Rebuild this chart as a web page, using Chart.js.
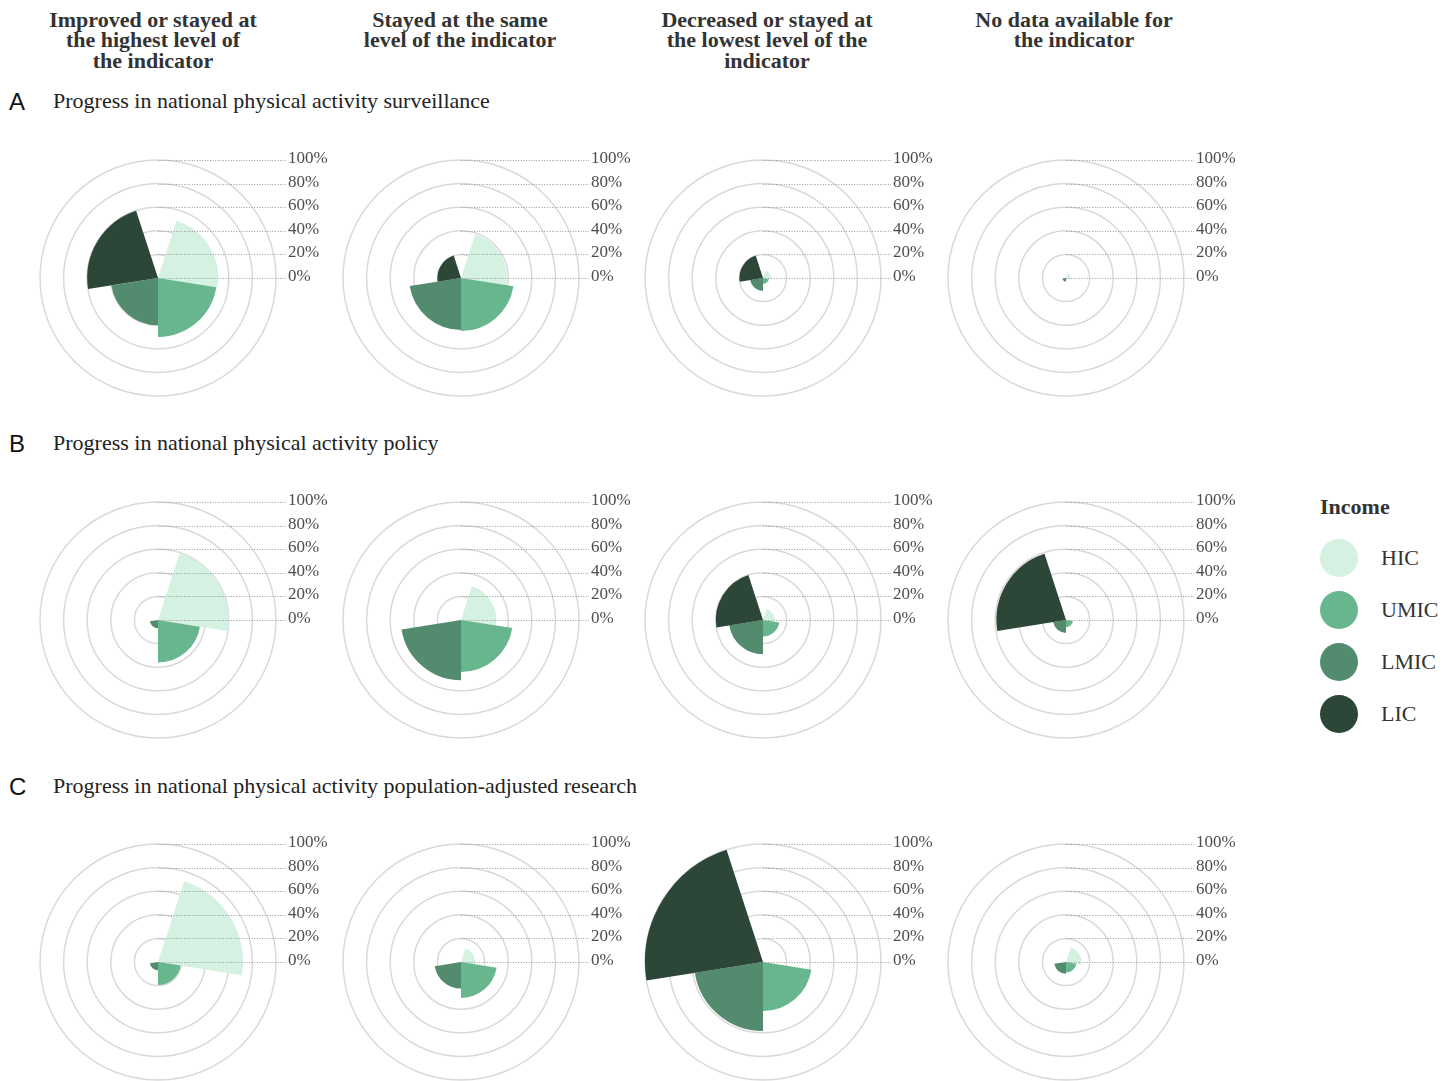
<!DOCTYPE html>
<html>
<head>
<meta charset="utf-8">
<script src="https://cdn.jsdelivr.net/npm/chart.js@4.4.0/dist/chart.umd.min.js"></script>
<style>
html,body{margin:0;padding:0;background:#ffffff;}
body{width:1452px;height:1081px;position:relative;overflow:hidden;font-family:"Liberation Serif","Times New Roman",serif;}
.hdr{position:absolute;width:320px;text-align:center;font-weight:bold;font-size:22px;line-height:20.5px;color:#333333;}
.rowlab{position:absolute;font-family:"Liberation Sans",Arial,sans-serif;font-size:24px;line-height:24px;color:#111111;}
.rowtitle{position:absolute;font-size:22px;line-height:24px;color:#222222;white-space:nowrap;}
.legtitle{position:absolute;font-weight:bold;font-size:22px;line-height:24px;color:#333333;}
.legdot{position:absolute;width:38px;height:38px;border-radius:50%;}
.leglab{position:absolute;font-size:22px;line-height:24px;color:#333333;}
canvas{position:absolute;}
</style>
</head>
<body>
<div id="root"></div>
<script>
// ---------- data ----------
const incomeGroups = ['HIC', 'UMIC', 'LMIC', 'LIC'];
const incomeColors = ['#d4f1e2', '#67b68e', '#538b6e', '#2c4638'];
const columnTitles = [
  ['Improved or stayed at', 'the highest level of', 'the indicator'],
  ['Stayed at the same', 'level of the indicator'],
  ['Decreased or stayed at', 'the lowest level of the', 'indicator'],
  ['No data available for', 'the indicator']
];
const rowLetters = ['A', 'B', 'C'];
const rowTitles = [
  'Progress in national physical activity surveillance',
  'Progress in national physical activity policy',
  'Progress in national physical activity population-adjusted research'
];
const legendTitle = 'Income';
const tickValues = [0, 20, 40, 60, 80, 100];
const tickLabels = ['0%', '20%', '40%', '60%', '80%', '100%'];

// values: percent of countries in each income group (HIC, UMIC, LMIC, LIC)
const surveillanceImproved = [51, 50, 40, 60];
const surveillanceSame     = [39, 45, 44, 20];
const surveillanceDecreased= [7, 5, 11, 20];
const surveillanceNoData   = [4, 1, 3, 0];

const policyImproved  = [60, 36, 7, 0];
const policySame      = [30, 44, 51, 0];
const policyDecreased = [10, 14, 29, 40];
const policyNoData    = [0, 6, 11, 59];

const researchImproved  = [72, 19.5, 7, 0];
const researchSame      = [12, 30.5, 22.5, 0];
const researchDecreased = [0, 41.5, 58.5, 100];
const researchNoData    = [13, 9, 10, 0];

const panelRows = [
  [surveillanceImproved, surveillanceSame, surveillanceDecreased, surveillanceNoData],
  [policyImproved, policySame, policyDecreased, policyNoData],
  [researchImproved, researchSame, researchDecreased, researchNoData]
];

// ---------- layout ----------
const colCenterX = [158, 461, 763, 1066];
const rowCenterY = [278, 620, 962];
const headerCenterX = [153, 460, 767, 1074];
const rowTitleY = [101, 443, 786];
const RADIUS = 118;
const PAD = {left: 4, top: 12, right: 66, bottom: 6};

const root = document.getElementById('root');
function el(cls, text, style) {
  const d = document.createElement('div');
  d.className = cls;
  if (text !== null) d.textContent = text;
  Object.assign(d.style, style);
  root.appendChild(d);
  return d;
}

// column headers
columnTitles.forEach((lines, i) => {
  const d = el('hdr', null, {left: (headerCenterX[i] - 160) + 'px', top: (20 - 10.25) + 'px'});
  d.innerHTML = lines.map(s => s.replace(/&/g, '&amp;')).join('<br>');
});

// row labels
rowTitles.forEach((t, i) => {
  el('rowlab', rowLetters[i], {left: '9px', top: (rowTitleY[i] + 1 - 12) + 'px'});
  el('rowtitle', t, {left: '53px', top: (rowTitleY[i] - 12) + 'px'});
});

// legend
el('legtitle', legendTitle, {left: '1320px', top: (507 - 12) + 'px'});
incomeGroups.forEach((g, i) => {
  const cy = 558 + i * 52;
  el('legdot', null, {left: (1339 - 19) + 'px', top: (cy - 19) + 'px', background: incomeColors[i]});
  el('leglab', g, {left: '1381px', top: (cy - 12) + 'px'});
});

// tick leader plugin
const tickLeaders = {
  id: 'tickLeaders',
  afterDatasetsDraw(chart) {
    const s = chart.scales.r;
    const ctx = chart.ctx;
    ctx.save();
    ctx.strokeStyle = '#9a9a9a';
    ctx.lineWidth = 1;
    ctx.setLineDash([1, 1.6]);
    ctx.font = '17px "Liberation Serif"';
    ctx.fillStyle = '#4d4d4d';
    ctx.textBaseline = 'middle';
    ctx.textAlign = 'left';
    s.ticks.forEach(t => {
      const y = Math.round(s.yCenter - s.getDistanceFromCenterForValue(t.value)) + 0.5;
      ctx.beginPath();
      ctx.moveTo(s.xCenter, y);
      ctx.lineTo(s.xCenter + 128, y);
      ctx.stroke();
      ctx.fillText(t.label, s.xCenter + 130, y - 2);
    });
    ctx.restore();
  }
};

panelRows.forEach((row, r) => {
  row.forEach((values, c) => {
    const cv = document.createElement('canvas');
    const W = PAD.left + 2 * RADIUS + PAD.right;
    const H = PAD.top + 2 * RADIUS + PAD.bottom;
    cv.width = W; cv.height = H;
    cv.style.width = W + 'px'; cv.style.height = H + 'px';
    cv.style.left = (colCenterX[c] - PAD.left - RADIUS) + 'px';
    cv.style.top = (rowCenterY[r] - PAD.top - RADIUS) + 'px';
    root.appendChild(cv);
    new Chart(cv, {
      type: 'polarArea',
      data: {
        labels: incomeGroups,
        datasets: [{
          data: values,
          backgroundColor: incomeColors,
          borderWidth: 0,
          angle: 81
        }]
      },
      options: {
        responsive: false,
        animation: false,
        devicePixelRatio: 1,
        layout: {padding: PAD},
        plugins: {legend: {display: false}, tooltip: {enabled: false}},
        scales: {
          r: {
            min: 0,
            max: 100,
            startAngle: 18,
            ticks: {
              display: false,
              stepSize: 20,
              callback: v => tickLabels[tickValues.indexOf(v)]
            },
            grid: {color: '#d9d9d9', lineWidth: 1.5, circular: true},
            angleLines: {display: false},
            pointLabels: {display: false}
          }
        }
      },
      plugins: [tickLeaders]
    });
  });
});
</script>
</body>
</html>
